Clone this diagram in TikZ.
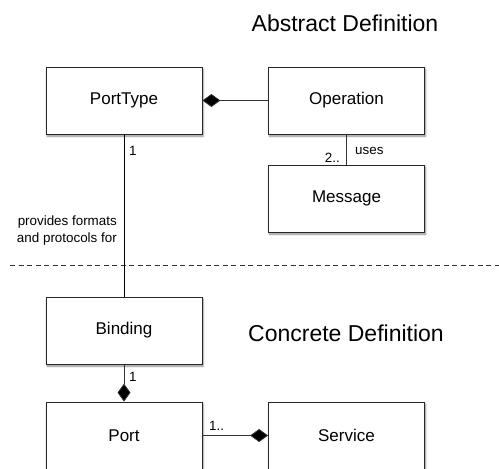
\documentclass[tikz,border=0pt]{standalone}
\usepackage{fontspec}
\setmainfont{Liberation Sans}
\usetikzlibrary{arrows.meta,shadows.blur}
\tikzset{
  umlbox/.style={draw=black!85, line width=0.8pt, fill=white, minimum width=156pt, minimum height=67pt,
    inner sep=0pt, font=\fontsize{17}{19}\selectfont,
    blur shadow={shadow xshift=1pt, shadow yshift=-2pt, shadow blur steps=5, shadow opacity=45}},
  conn/.style={draw=black!80, line width=0.8pt},
  comp/.style={-{Diamond[length=18pt,width=13pt,fill=black]}},
  lbl/.style={font=\fontsize{13.4}{17}\selectfont, inner sep=0pt},
  title/.style={font=\fontsize{23}{27}\selectfont, inner sep=0pt}
}
\begin{document}
\begin{tikzpicture}[x=1pt,y=-1pt]
\useasboundingbox (0,0) rectangle (499,469);
\clip (0,0) rectangle (499,469);
\node[title] (abs) at (345,23) {Abstract Definition};
\node[title] (con) at (346,333) {Concrete Definition};
\node[umlbox] (pt) at (124,100.5) {PortType};
\node[umlbox] (op) at (346.5,100.5) {Operation};
\node[umlbox] (msg) at (346.5,198.5) {Message};
\node[umlbox] (bind) at (124,330.5) {Binding};
\node[umlbox] (port) at (124,435.5) {Port};
\node[umlbox] (svc) at (346.5,435.5) {Service};
\coordinate (dl) at (10,265);
\coordinate (dr) at (499,265);
\draw[black!80, line width=0.8pt, dash pattern=on 5pt off 3.5pt] (dl) -- (dr);
\draw[conn, comp] (op.west) -- (pt.east);
\draw[conn] (op.south) -- (msg.north);
\draw[conn, black] (pt.south) -- (bind.north);
\draw[conn, comp] (bind.south) -- (port.north);
\draw[conn, comp] (port.east) -- (svc.west);
\node[lbl, anchor=west] (l1) at (129,151) {1};
\node[lbl, anchor=west] (luses) at (355,151) {uses};
\node[lbl, anchor=east] (l2) at (340,158) {2..};
\node[lbl, align=right, anchor=east] (lprov) at (117,231) {provides formats\\and protocols for};
\node[lbl, anchor=west] (l3) at (129,377) {1};
\node[lbl, anchor=west] (l4) at (209,426) {1..};
\end{tikzpicture}
\end{document}
